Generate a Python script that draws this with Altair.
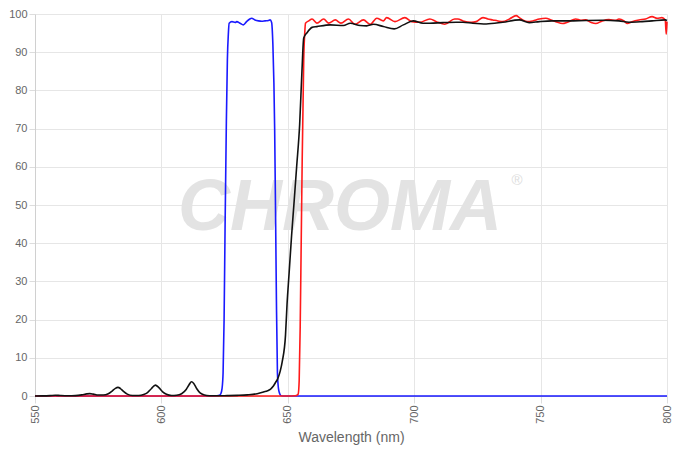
import altair as alt
import pandas as pd

# ---- data ----
blue_wl = [550, 600, 620, 622, 623, 623.5, 624, 624.4, 624.8, 625.2, 625.7, 626.1, 626.5,
           626.8, 627.9, 629.2, 629.8, 631.1, 632.4, 633.7, 635.0, 635.7, 637.0, 638.4,
           639.7, 641.0, 642.3, 643.0, 643.6, 644.1, 644.5, 644.8, 645.2, 645.5, 645.9,
           646.3, 646.8, 647.3, 648, 660, 700, 750, 800]
blue_t = [0, 0, 0, 0.05, 0.2, 0.6, 2, 6, 20, 45, 72, 88, 95,
          97.6, 98.0, 97.8, 98.0, 97.6, 97.15, 98.0, 98.7, 98.9, 98.45, 98.2,
          98.1, 98.2, 98.3, 98.45, 97.8, 92, 82, 70, 45, 25, 6,
          2, 0.6, 0.1, 0, 0, 0, 0, 0]

red_wl = [550, 600, 640, 650, 653, 653.6, 654.1, 654.5, 654.9, 655.3, 655.7, 656.0, 656.3,
          656.7, 657.0, 658.3, 659.6, 661.5, 664.2, 666.1, 668.8, 671.0, 674.0, 676.6,
          679.9, 682.6, 685.2, 687.8, 689.1, 692.4, 696.3, 699.0, 702.2, 706.2, 708.8,
          712.1, 716.0, 717.3, 719.3, 722.6, 724.5, 727.2, 729.1, 731.1, 733.1, 735.0,
          737.7, 740.3, 741.6, 742.9, 744.9, 746.9, 749.5, 752.1, 754.1, 756.0, 758.7,
          760.6, 763.9, 765.9, 767.8, 769.8, 771.8, 774.4, 777.0, 779.7, 781.0, 783.0,
          784.3, 786.2, 788.9, 791.5, 794.1, 796.1, 798.0, 799.3, 799.7, 800]
red_t = [0, 0, 0, 0, 0.05, 0.2, 0.5, 4, 18, 40, 62, 75, 88,
         95, 97.6, 98.2, 98.7, 97.6, 98.7, 97.6, 98.45, 97.6, 98.7, 97.3,
         98.45, 97.3, 98.9, 98.2, 99.05, 98.0, 99.05, 98.0, 97.84, 98.7, 98.0,
         97.3, 98.7, 98.7, 98.19, 97.84, 98.0, 99.05, 98.7, 98.45, 98.19, 98.0,
         98.7, 99.57, 99.05, 98.45, 98.0, 98.19, 98.7, 98.88, 98.45, 98.0, 97.5,
         97.84, 98.7, 98.36, 98.45, 97.84, 97.5, 98.19, 98.53, 98.36, 98.7, 98.19,
         97.5, 98.0, 98.45, 98.7, 99.3, 98.88, 99.05, 98.45, 94.7, 98.0]

black_wl = [550, 553, 556, 558, 560, 563, 566, 568.5, 570.5, 571.7, 573, 575, 577, 579,
            580.5, 581.8, 582.8, 583.8, 585, 586.5, 588.5, 591, 593, 594.5, 596, 597.6,
            599, 600.5, 602, 604, 606, 608, 609.8, 611, 611.9, 612.8, 614, 615.3, 617,
            619, 622, 626, 630, 634, 637.9, 640.6, 642, 643.2, 644.3, 645.2, 646, 647,
            647.8, 649.1, 649.7, 650.5, 651.5, 652.4, 653.5, 654.7, 655.6, 656.3, 657.6,
            659.6, 661.5, 666.8, 672.0, 674.7, 678.6, 681.2, 683.9, 687.8, 692.1, 695.7,
            699.6, 703.5, 706.2, 711.4, 716.7, 719.3, 723.2, 728.5, 735.0, 741.6, 745.5,
            749.5, 754.7, 761.3, 767.8, 774.4, 781.0, 784.9, 790.2, 794.1, 799.3, 800]
black_t = [0, 0.02, 0.1, 0.2, 0.12, 0.05, 0.1, 0.3, 0.55, 0.62, 0.5, 0.25, 0.25, 0.6,
           1.3, 2.0, 2.25, 1.95, 1.2, 0.5, 0.15, 0.15, 0.4, 0.9, 1.9, 2.85,
           2.2, 1.1, 0.45, 0.15, 0.2, 0.6, 1.7, 3.0, 3.75, 3.3, 1.9, 0.8, 0.25,
           0.08, 0.05, 0.1, 0.17, 0.3, 0.6, 1.1, 1.4, 1.8, 2.6, 3.6, 4.5, 6.5,
           9, 16, 24, 32, 42, 50, 60, 71.2, 85.1, 93.7, 95.1,
           96.5, 96.7, 97.15, 96.98, 97.58, 96.98, 96.9, 97.3, 96.72, 96.1, 97.15,
           98.19, 97.58, 97.58, 97.75, 97.84, 97.84, 97.58, 97.4, 97.84, 98.45, 97.75,
           98.0, 98.19, 98.19, 98.3, 98.36, 98.19, 97.84, 98.0, 98.19, 98.45, 98.3]

x_ticks = [550, 600, 650, 700, 750, 800]
y_ticks = [0, 10, 20, 30, 40, 50, 60, 70, 80, 90, 100]

FONT = "Liberation Sans"

xs = alt.Scale(domain=[550, 800], nice=False, zero=False)
ys = alt.Scale(domain=[0, 100], nice=False)

x_enc = alt.X("wl:Q", scale=xs,
              axis=alt.Axis(values=x_ticks, title="Wavelength (nm)", labelAngle=270,
                            tickSize=7, labelPadding=2, titlePadding=7))
y_enc = alt.Y("t:Q", scale=ys,
              axis=alt.Axis(values=y_ticks, title=None, tickSize=6, labelPadding=2))


def series(wl, t, color, width=1.6):
    df = pd.DataFrame({"wl": wl, "t": t})
    return alt.Chart(df).mark_line(color=color, strokeWidth=width,
                                   interpolate="monotone").encode(x=x_enc, y=y_enc)


wm = pd.DataFrame({"s": ["CHROMA"]})
watermark = alt.Chart(wm).mark_text(
    font=FONT, fontSize=72, fontStyle="italic", fontWeight="bold",
    color="#e3e3e3", align="center", baseline="alphabetic"
).encode(x=alt.value(305), y=alt.value(216), text="s:N")

reg = pd.DataFrame({"s": ["®"]})
regmark = alt.Chart(reg).mark_text(
    font=FONT, fontSize=15, color="#dddddd", align="center", baseline="middle"
).encode(x=alt.value(482), y=alt.value(166), text="s:N")

chart = alt.layer(
    watermark, regmark,
    series(blue_wl, blue_t, "#1a1aff"),
    series(red_wl, red_t, "#ff1a1a"),
    series(black_wl, black_t, "#111111"),
).properties(width=632, height=382, padding=0).configure_view(
    stroke=None
).configure_axis(
    labelFont=FONT, labelFontSize=11, labelColor="#666666",
    titleFont=FONT, titleFontSize=14, titleFontWeight="normal", titleColor="#666666",
    gridColor="#e6e6e6", tickColor="#dddddd", domainColor="#d0d0d0"
)

chart.save("out.html", embed_options={"renderer": "svg", "actions": False})
